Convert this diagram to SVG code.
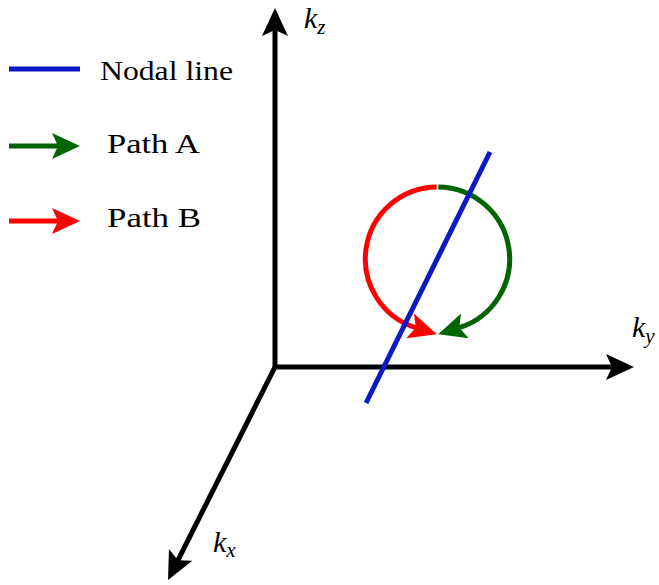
<svg xmlns="http://www.w3.org/2000/svg" width="659" height="585" viewBox="0 0 659 585">
<style>
.ax{stroke:#000;stroke-width:5;fill:none}
text{font-family:'Liberation Serif','DejaVu Serif',serif;fill:#000}
.lbl{font-size:28px}
.k{font-style:italic;font-size:30px}
.sub{font-size:21px}
</style>
<defs>
<marker id="mk" viewBox="0 0 28 26" refX="6" refY="13" markerWidth="28" markerHeight="26" markerUnits="userSpaceOnUse" orient="auto"><path d="M0,0 L28,13 L0,26 L6,13 Z" fill="#000"/></marker>
<marker id="mg" viewBox="0 0 28 26" refX="6" refY="13" markerWidth="28" markerHeight="26" markerUnits="userSpaceOnUse" orient="auto"><path d="M0,0 L28,13 L0,26 L6,13 Z" fill="#006400"/></marker>
<marker id="mr" viewBox="0 0 28 26" refX="6" refY="13" markerWidth="28" markerHeight="26" markerUnits="userSpaceOnUse" orient="auto"><path d="M0,0 L28,13 L0,26 L6,13 Z" fill="#ff0000"/></marker>
</defs>
<rect width="659" height="585" fill="#fff"/>
<g id="connectors">
<line id="axis-z" class="ax" x1="275" y1="367" x2="275" y2="30" marker-end="url(#mk)"/>
<line id="axis-y" class="ax" x1="273" y1="367" x2="612" y2="367" marker-end="url(#mk)"/>
<line id="axis-x" class="ax" x1="276" y1="365" x2="177.9" y2="560.3" marker-end="url(#mk)"/>
<path id="path-b" d="M436.7,187 A72,72 0 0,0 415.8,327.7" fill="none" stroke="#ff0000" stroke-width="5" marker-end="url(#mr)"/>
<path id="path-a" d="M438.3,187 A72,72 0 0,1 459.2,327.7" fill="none" stroke="#006400" stroke-width="5" marker-end="url(#mg)"/>
<line id="nodal-line" x1="490" y1="152" x2="366" y2="403" stroke="#0a1ac4" stroke-width="5"/>
</g>
<g id="label-kz"><text class="k" x="304" y="28">k<tspan class="sub" dy="6">z</tspan></text></g>
<g id="label-ky"><text class="k" x="632" y="337">k<tspan class="sub" dy="6">y</tspan></text></g>
<g id="label-kx"><text class="k" x="213" y="552">k<tspan class="sub" dy="5">x</tspan></text></g>
<g id="legend-nodal">
<line x1="9" y1="69" x2="80" y2="69" stroke="#0a1ac4" stroke-width="5"/>
<text class="lbl" x="100" y="80" textLength="133" lengthAdjust="spacingAndGlyphs">Nodal line</text>
</g>
<g id="legend-path-a">
<line x1="9" y1="146" x2="58" y2="146" stroke="#006400" stroke-width="5" marker-end="url(#mg)"/>
<text class="lbl" x="107" y="153" textLength="93" lengthAdjust="spacingAndGlyphs">Path A</text>
</g>
<g id="legend-path-b">
<line x1="9" y1="221" x2="58" y2="221" stroke="#ff0000" stroke-width="5" marker-end="url(#mr)"/>
<text class="lbl" x="107" y="227" textLength="94" lengthAdjust="spacingAndGlyphs">Path B</text>
</g>
</svg>
